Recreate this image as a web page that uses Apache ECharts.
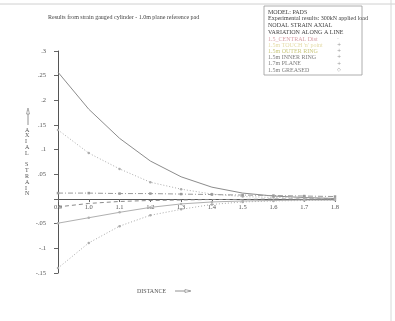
<!DOCTYPE html>
<html>
<head>
<meta charset="utf-8">
<script src="https://cdn.jsdelivr.net/npm/echarts@6/dist/echarts.min.js"></script>
<style>
  html, body { margin: 0; padding: 0; background: #fff; }
  #chart { width: 395px; height: 321px; }
</style>
</head>
<body>
<div id="chart"></div>
<script>
// distance along the line
const distances = ['0.9', '1.0', '1.1', '1.2', '1.3', '1.4', '1.5', '1.6', '1.7', '1.8']

const seriesNames = ['1.5_CENTRAL Dist', '1.5m TOUCH \'n\' point', '1.5m OUTER RING', '1.5m INNER RING', '1.7m PLANE', '1.5m GREASED']

// nodal axial strain
const centralDist = [0.257, 0.182, 0.123, 0.077, 0.045, 0.024, 0.012, 0.006, 0.003, 0.001]
const touchPoint = [0.140, 0.093, 0.061, 0.034, 0.020, 0.010, 0.005, 0.003, 0.002, 0.001]
const outerRing = [0.012, 0.012, 0.011, 0.011, 0.010, 0.009, 0.008, 0.007, 0.006, 0.005]
const innerRing = [-0.140, -0.089, -0.055, -0.033, -0.021, -0.011, -0.006, -0.004, -0.003, -0.002]
const plane17 = [-0.049, -0.038, -0.027, -0.017, -0.010, -0.006, -0.004, -0.003, -0.002, -0.002]
const greased = [-0.016, -0.009, -0.005, -0.003, -0.002, -0.001, -0.001, 0.000, 0.000, 0.000]

const legendTextColors = ['#d7a0a8', '#e4dba6', '#c9c77c', '#7d7d7d', '#7d7d7d', '#7d7d7d']
const legendMarks = ['-', '+', '+', '+', '+', '◇']

const serif = 'Liberation Serif'

const chart = echarts.init(document.getElementById('chart'))

const mkSeries = (name, data, color, type, symbol) => ({
  name,
  type: 'line',
  data,
  symbol: symbol || 'none',
  symbolSize: 2.5,
  showSymbol: !!symbol,
  smooth: false,
  animation: false,
  lineStyle: { color, width: 1, type },
  itemStyle: { color }
})

// legend entries drawn in the boxed key, text left, marker at the right
const legendGraphics = []
seriesNames.forEach((n, i) => {
  const y = 36 + i * 6.2
  legendGraphics.push({
    type: 'text', left: 268, top: y,
    style: { text: n, font: '6px "Liberation Serif"', fill: legendTextColors[i] }
  })
  legendGraphics.push({
    type: 'text', left: 337, top: y,
    style: { text: legendMarks[i], font: '5px "DejaVu Sans"', fill: '#999' }
  })
})

const option = {
  animation: false,
  backgroundColor: '#fff',
  grid: { left: 58, right: 60, top: 51, bottom: 48 },
  xAxis: {
    type: 'category',
    data: distances,
    boundaryGap: false,
    // sit the axis on the zero line
    offset: -74,
    axisLine: { onZero: false, lineStyle: { color: '#555', width: 1 } },
    axisTick: { show: true, alignWithLabel: true, length: 3, lineStyle: { color: '#666' } },
    axisLabel: { fontSize: 6.5, fontFamily: serif, color: '#555', margin: 5 },
    splitLine: { show: false }
  },
  yAxis: {
    type: 'value',
    min: -0.15,
    max: 0.3,
    interval: 0.05,
    axisLine: { show: true, lineStyle: { color: '#555', width: 1 } },
    axisTick: { show: true, length: 4, lineStyle: { color: '#666' } },
    axisLabel: {
      fontSize: 6.5,
      fontFamily: serif,
      color: '#555',
      margin: 12,
      formatter: v => {
        const r = +v.toFixed(2)
        if (r === 0) return ''
        return String(r).replace('0.', '.')
      }
    },
    splitLine: { show: false }
  },
  graphic: [
    { type: 'line', shape: { x1: 0, y1: 4, x2: 395, y2: 4 }, style: { stroke: '#d0d0d0', lineWidth: 1 } },
    { type: 'line', shape: { x1: 391, y1: 0, x2: 391, y2: 321 }, style: { stroke: '#d8d8d8', lineWidth: 1 } },
    {
      type: 'text', left: 48, top: 14,
      style: { text: 'Results from strain gauged cylinder - 1.0m plane reference pad', font: '6px "Liberation Serif"', fill: '#444' }
    },
    { type: 'rect', shape: { x: 264, y: 6, width: 98, height: 69 }, style: { fill: '#fff', stroke: '#999', lineWidth: 0.8 }, z: 0 },
    {
      type: 'text', left: 268, top: 9,
      style: {
        text: 'MODEL: PADS\nExperimental results: 300kN applied load\nNODAL STRAIN AXIAL\nVARIATION ALONG A LINE',
        font: '6px "Liberation Serif"', fill: '#444', lineHeight: 6.6
      }
    },
    ...legendGraphics,
    {
      type: 'text', left: 25, top: 127,
      style: { text: 'A\nX\nI\nA\nL\n\nS\nT\nR\nA\nI\nN', font: '6px "Liberation Serif"', fill: '#555', lineHeight: 5.8, align: 'center' }
    },
    { type: 'line', shape: { x1: 28, y1: 125, x2: 28, y2: 110 }, style: { stroke: '#777', lineWidth: 0.8 } },
    { type: 'polygon', shape: { points: [[26.5, 114], [28, 108], [29.5, 114]] }, style: { fill: '#fff', stroke: '#777', lineWidth: 0.6 } },
    {
      type: 'text', left: 137, top: 288,
      style: { text: 'DISTANCE', font: '6px "Liberation Serif"', fill: '#555' }
    },
    { type: 'line', shape: { x1: 175, y1: 291, x2: 190, y2: 291 }, style: { stroke: '#777', lineWidth: 0.8 } },
    { type: 'polygon', shape: { points: [[185, 289.5], [191, 291], [185, 292.5]] }, style: { fill: '#fff', stroke: '#777', lineWidth: 0.6 } }
  ],
  series: [
    mkSeries(seriesNames[0], centralDist, '#8c8c8c', 'solid'),
    mkSeries(seriesNames[1], touchPoint, '#adadad', [1, 2], 'circle'),
    mkSeries(seriesNames[2], outerRing, '#9a9a9a', [5, 2, 1, 2], 'rect'),
    mkSeries(seriesNames[3], innerRing, '#aaaaaa', [1, 2], 'circle'),
    mkSeries(seriesNames[4], plane17, '#b0b0b0', 'solid', 'circle'),
    mkSeries(seriesNames[5], greased, '#8a8a8a', [4, 3], 'none')
  ]
}

chart.setOption(option)
window.addEventListener('resize', () => chart.resize())
</script>
</body>
</html>
